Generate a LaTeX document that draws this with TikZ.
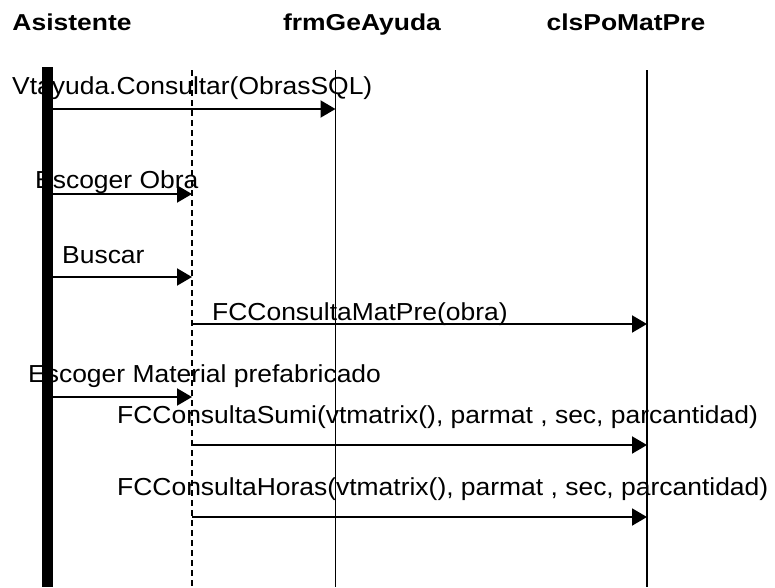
\documentclass[tikz,border=0pt]{standalone}
\usepackage{fontspec}
\setmainfont{Liberation Sans}[FakeStretch=1.075]
\newfontfamily\headfont{Liberation Sans}[FakeStretch=1.15]
\usetikzlibrary{arrows.meta, positioning}
\tikzset{
  seq head/.style={
    font=\headfont\bfseries\fontsize{23}{27}\selectfont,
    inner sep=0pt, anchor=base
  },
  seq label/.style={
    font=\fontsize{24.6}{29}\selectfont,
    inner sep=0pt, anchor=base west
  },
  seq life/.style={
    draw=black, line width=1.5pt
  },
  seq form/.style={
    seq life, dash pattern=on 6pt off 4pt
  },
  seq actor/.style={
    draw=black, line width=11pt
  },
  seq msg/.style={
    -{Triangle[length=15pt, width=17pt]}, draw=black, line width=2pt
  }
}

\begin{document}
\begin{tikzpicture}[x=1pt, y=-1pt]
  \useasboundingbox (0,0) rectangle (775,587);

  % headers
  \node (hasis) [seq head] at (72,30) {Asistente};
  \node (hform) [seq head] at (362,30) {frmGeAyuda};
  \node (hcls)  [seq head] at (626,30) {clsPoMatPre};

  % lifeline ends
  \coordinate (asis top) at (47.5,67);
  \coordinate (asis bot) at (47.5,587);
  \coordinate (dlg top) at (192,70);
  \coordinate (dlg bot) at (192,587);
  \coordinate (form top) at (335.5,70);
  \coordinate (form bot) at (335.5,587);
  \coordinate (cls top) at (647,70);
  \coordinate (cls bot) at (647,587);

  % message labels
  \node (l1) [seq label] at (12,94) {Vtayuda.Consultar(ObrasSQL)};
  \node (l2) [seq label] at (35,188) {Escoger Obra};
  \node (l3) [seq label] at (62,263) {Buscar};
  \node (l4) [seq label] at (212,320) {FCConsultaMatPre(obra)};
  \node (l5) [seq label] at (28,382) {Escoger Material prefabricado};
  \node (l6) [seq label] at (117,423) {FCConsultaSumi(vtmatrix(), parmat , sec, parcantidad)};
  \node (l7) [seq label] at (117,495) {FCConsultaHoras(vtmatrix(), parmat , sec, parcantidad)};

  % lifelines
  \draw [seq actor] (asis top) -- (asis bot);
  \draw [seq form] (dlg top) -- (dlg bot);
  \draw [seq life] (form top) -- (form bot);
  \draw [seq life] (cls top) -- (cls bot);

  % message ends
  \coordinate (m1a) at (53,109);  \coordinate (m1b) at (335.5,109);
  \coordinate (m2a) at (53,194);  \coordinate (m2b) at (192,194);
  \coordinate (m3a) at (53,277);  \coordinate (m3b) at (192,277);
  \coordinate (m4a) at (192,324); \coordinate (m4b) at (647,324);
  \coordinate (m5a) at (53,397);  \coordinate (m5b) at (192,397);
  \coordinate (m6a) at (192,445); \coordinate (m6b) at (647,445);
  \coordinate (m7a) at (192,517); \coordinate (m7b) at (647,517);

  \draw [seq msg] (m1a) -- (m1b);
  \draw [seq msg] (m2a) -- (m2b);
  \draw [seq msg] (m3a) -- (m3b);
  \draw [seq msg] (m4a) -- (m4b);
  \draw [seq msg] (m5a) -- (m5b);
  \draw [seq msg] (m6a) -- (m6b);
  \draw [seq msg] (m7a) -- (m7b);
\end{tikzpicture}
\end{document}
